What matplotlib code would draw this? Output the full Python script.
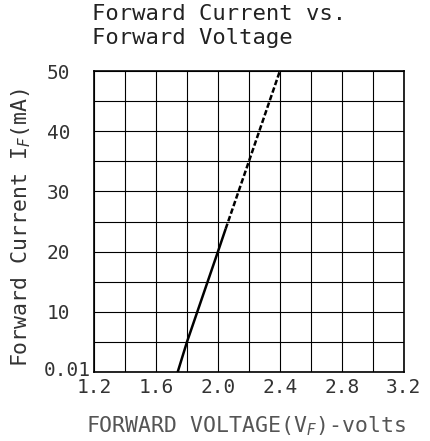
import matplotlib
matplotlib.use('Agg')
import matplotlib.pyplot as plt

# forward voltage (V) vs forward current (mA)
v_solid = [1.74, 1.80, 2.00, 2.05]
i_solid = [0.0, 5.0, 20.0, 23.8]
v_dash = [2.05, 2.20, 2.40]
i_dash = [23.8, 35.0, 50.0]

x_ticks = [1.2, 1.6, 2.0, 2.4, 2.8, 3.2]
x_labels = ['1.2', '1.6', '2.0', '2.4', '2.8', '3.2']
y_ticks = [0, 10, 20, 30, 40, 50]
y_labels = ['', '10', '20', '30', '40', '50']

plt.rcParams['font.family'] = ['DejaVu Sans Mono', 'DejaVu Sans']

fig = plt.figure(figsize=(4.31, 4.41), dpi=100)
ax = fig.add_axes([0.218, 0.156, 0.719, 0.683])

ax.plot(v_solid, i_solid, color='black', lw=1.8, solid_capstyle='butt')
ax.plot(v_dash, i_dash, color='black', lw=1.8, ls=(0, (2.2, 1.0)))

ax.set_xlim(1.2, 3.2)
ax.set_ylim(0, 50)
ax.set_xticks(x_ticks)
ax.set_xticklabels(x_labels)
ax.set_xticks([1.4, 1.8, 2.2, 2.6, 3.0], minor=True)
ax.set_yticks(y_ticks)
ax.set_yticklabels(y_labels)
ax.set_yticks([5, 15, 25, 35, 45], minor=True)
ax.grid(True, which='both', color='black', lw=0.8)
ax.tick_params(which='both', length=0, labelsize=14, colors='#333333')
ax.tick_params(axis='x', pad=4)
ax.tick_params(axis='y', pad=17)
for s in ax.spines.values():
    s.set_linewidth(1.2)

# bottom value label sits closer to the axis than the others
ax.annotate('0.01', xy=(0, 0), xycoords='axes fraction', xytext=(-2, 1),
            textcoords='offset points', ha='right', va='center',
            fontsize=14, color='#333333')

ax.set_xlabel('FORWARD VOLTAGE(V$_F$)-volts', fontsize=15.5, color='#555555',
              va='center')
ax.xaxis.set_label_coords(0.49, -0.179)
ax.set_ylabel('Forward Current I$_F$(mA)', fontsize=15.5, color='#333333',
              va='center')
ax.yaxis.set_label_coords(-0.235, 0.48)

fig.text(0.213, 0.99, 'Forward Current vs.\nForward Voltage', fontsize=16,
         va='top', ha='left', linespacing=1.2, color='#222222')

fig.savefig('out.png', dpi=100)
